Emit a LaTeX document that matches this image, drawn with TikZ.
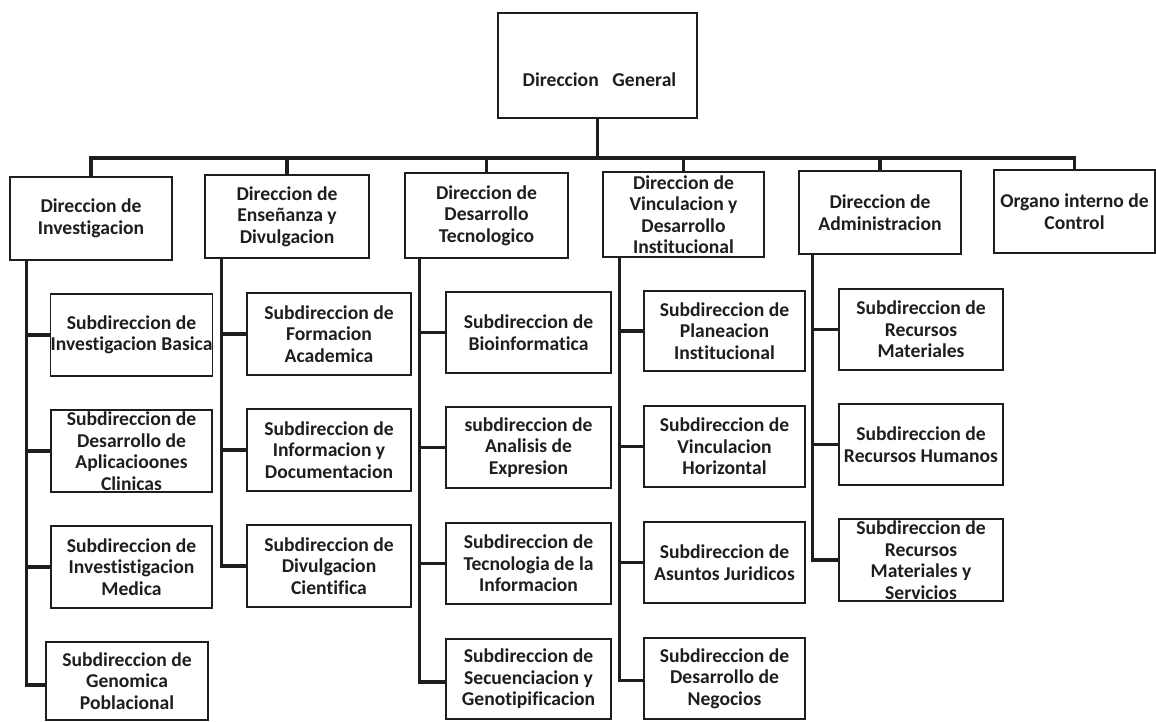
\documentclass[tikz,border=0pt]{standalone}
\usepackage{fontspec}
\setmainfont[Ligatures=NoCommon]{Carlito}
\usetikzlibrary{calc}
\definecolor{ink}{HTML}{1E1E1E}
\begin{document}
\begin{tikzpicture}[x=1pt,y=-1pt,
  boxst/.style={draw=ink, line width=1.6pt, fill=white, inner sep=0pt, align=center,
    text=ink, font=\fontsize{19.6}{21.5}\selectfont\bfseries},
  connst/.style={draw=ink, line width=3.4pt, line join=miter},
  txt/.style={text=ink, inner sep=0pt, font=\fontsize{19.6}{21.5}\selectfont\bfseries}]
\useasboundingbox (0,0) rectangle (1156,721);
% top
\node[boxst, minimum width=199, minimum height=105] (gen) at (597.5,65.5) {};
\node[txt] (gent) at (599.5,80) {Direccion\hspace{0.7em}General};
% directions
\node[boxst, minimum width=162, minimum height=83] (d1) at (91,218.5) {Direccion de\\Investigacion};
\node[boxst, minimum width=164, minimum height=83] (d2) at (287,216.5) {Direccion de\\Enseñanza y\\Divulgacion};
\node[boxst, minimum width=163, minimum height=85] (d3) at (486.5,215.5) {Direccion de\\Desarrollo\\Tecnologico};
\node[boxst, minimum width=161, minimum height=85] (d4) at (683.5,214.5) {Direccion de\\Vinculacion y\\Desarrollo\\Institucional};
\node[boxst, minimum width=162, minimum height=83] (d5) at (880,212.5) {Direccion de\\Administracion};
\node[boxst, minimum width=161, minimum height=83] (d6) at (1074.5,211.5) {Organo interno de\\Control};
% column 1
\node[boxst, minimum width=161, minimum height=82] (s11) at (131.5,335) {Subdireccion de\\Investigacion Basica};
\node[boxst, minimum width=161, minimum height=82] (s12) at (131.5,451) {Subdireccion de\\Desarrollo de\\Aplicacioones\\Clinicas};
\node[boxst, minimum width=161, minimum height=82] (s13) at (131.5,567) {Subdireccion de\\Investistigacion\\Medica};
\node[boxst, minimum width=162, minimum height=78] (s14) at (127,681) {Subdireccion de\\Genomica\\Poblacional};
% column 2
\node[boxst, minimum width=164, minimum height=82] (s21) at (329,334) {Subdireccion de\\Formacion\\Academica};
\node[boxst, minimum width=164, minimum height=82] (s22) at (329,450) {Subdireccion de\\Informacion y\\Documentacion};
\node[boxst, minimum width=164, minimum height=82] (s23) at (329,566) {Subdireccion de\\Divulgacion\\Cientifica};
% column 3
\node[boxst, minimum width=165, minimum height=81] (s31) at (528.5,332.5) {Subdireccion de\\Bioinformatica};
\node[boxst, minimum width=165, minimum height=81] (s32) at (528.5,447.5) {subdireccion de\\Analisis de\\Expresion};
\node[boxst, minimum width=165, minimum height=81] (s33) at (528.5,563.5) {Subdireccion de\\Tecnologia de la\\Informacion};
\node[boxst, minimum width=165, minimum height=80] (s34) at (528.5,679) {Subdireccion de\\Secuenciacion y\\Genotipificacion};
% column 4
\node[boxst, minimum width=161, minimum height=80] (s41) at (724.5,331) {Subdireccion de\\Planeacion\\Institucional};
\node[boxst, minimum width=161, minimum height=81] (s42) at (724.5,446.5) {Subdireccion de\\Vinculacion\\Horizontal};
\node[boxst, minimum width=161, minimum height=81] (s43) at (724.5,562.5) {Subdireccion de\\Asuntos Juridicos};
\node[boxst, minimum width=161, minimum height=81] (s44) at (724.5,678.5) {Subdireccion de\\Desarrollo de\\Negocios};
% column 5
\node[boxst, minimum width=164, minimum height=81] (s51) at (921,329.5) {Subdireccion de\\Recursos\\Materiales};
\node[boxst, minimum width=164, minimum height=81] (s52) at (921,444.5) {Subdireccion de\\Recursos Humanos};
\node[boxst, minimum width=164, minimum height=82] (s53) at (921,560) {Subdireccion de\\Recursos\\Materiales y\\Servicios};
% top connectors
\coordinate (bar) at (0,158);
\draw[connst] (gen.south) -- (gen.south |- bar);
\draw[connst] (d1.north) |- (d6.north |- bar) -- (d6.north);
\foreach \d in {d2,d3,d4,d5} \draw[connst] (\d.north) -- (\d.north |- bar);
% column connectors
\draw[connst] ($(d1.south west)+(17,0)$) coordinate (v1) |- ($(s14.west)+(0,4)$);
\foreach \s in {s11,s12,s13} \draw[connst] (v1 |- \s.west) -- (\s.west);
\draw[connst] ($(d2.south west)+(17,0)$) coordinate (v2) |- (s23.west);
\foreach \s in {s21,s22} \draw[connst] (v2 |- \s.west) -- (\s.west);
\draw[connst] ($(d3.south west)+(15,0)$) coordinate (v3) |- ($(s34.west)+(0,3)$);
\foreach \s in {s31,s32,s33} \draw[connst] (v3 |- \s.west) -- (\s.west);
\draw[connst] ($(d4.south west)+(17,0)$) coordinate (v4) |- ($(s44.west)+(0,2)$);
\foreach \s in {s41,s42,s43} \draw[connst] (v4 |- \s.west) -- (\s.west);
\draw[connst] ($(d5.south west)+(14,0)$) coordinate (v5) |- (s53.west);
\foreach \s in {s51,s52} \draw[connst] (v5 |- \s.west) -- (\s.west);
\end{tikzpicture}
\end{document}
